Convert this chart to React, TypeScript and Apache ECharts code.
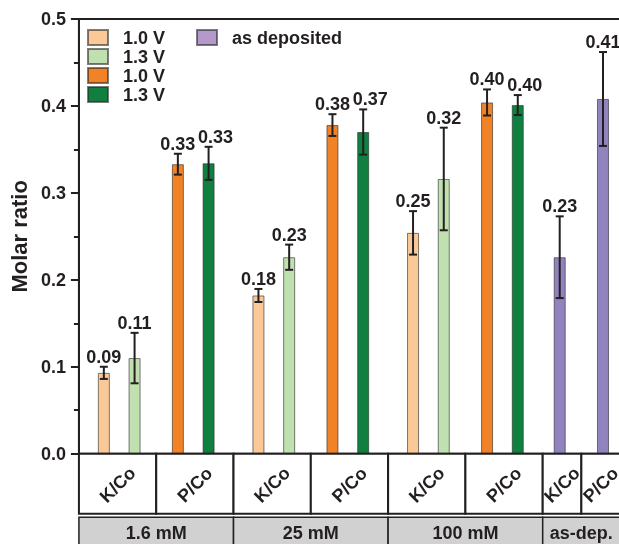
import React, { useEffect, useRef } from 'react';
import * as echarts from 'echarts';

// ---- data ----
const concentrations = ['1.6 mM', '25 mM', '100 mM', 'as-dep.'];
const ratios = ['K/Co', 'P/Co'];
const yTicks = [0, 0.1, 0.2, 0.3, 0.4, 0.5];

// K/Co and P/Co molar ratios for 1.6, 25, 100 mM at 1.0 V and 1.3 V
const kco10 = [0.093, 0.182, 0.254];
const kco10Err = [0.007, 0.0075, 0.025];
const kco13 = [0.110, 0.226, 0.316];
const kco13Err = [0.029, 0.0145, 0.059];
const pco10 = [0.333, 0.378, 0.404];
const pco10Err = [0.012, 0.0125, 0.015];
const pco13 = [0.334, 0.370, 0.401];
const pco13Err = [0.019, 0.026, 0.0115];
// as deposited: K/Co, P/Co
const asDep = [0.226, 0.408];
const asDepErr = [0.047, 0.054];

const legendLabels = ['1.0 V', '1.3 V', '1.0 V', '1.3 V', 'as deposited'];

// ---- layout / style ----
const FONT = '"Liberation Sans", Arial, Helvetica, sans-serif';
const INK = '#231f20';
const groupWidths = [4, 4, 4, 2]; // x-units per concentration block
const OUTER = 1.355;
const INNER = 0.56;
const colors = ['#FBC997', '#C0E0B0', '#F28226', '#108040', '#9184BE'];
const labelDx = [0, 0, 0, 7, 0];

const groupStarts: number[] = [];
groupWidths.reduce((acc, w) => { groupStarts.push(acc); return acc + w; }, 0);
const xMax = groupWidths.reduce((a, b) => a + b, 0);
const centers = groupStarts.map((s, i) => s + groupWidths[i] / 2);

const seriesNames = ['K/Co 1.0 V', 'K/Co 1.3 V', 'P/Co 1.0 V', 'P/Co 1.3 V', 'as deposited'];
const seriesDefs = [
  { values: kco10, errors: kco10Err, xs: kco10.map((_, i) => centers[i] - OUTER) },
  { values: kco13, errors: kco13Err, xs: kco13.map((_, i) => centers[i] - INNER) },
  { values: pco10, errors: pco10Err, xs: pco10.map((_, i) => centers[i] + INNER) },
  { values: pco13, errors: pco13Err, xs: pco13.map((_, i) => centers[i] + OUTER) },
  { values: asDep, errors: asDepErr, xs: asDep.map((_, i) => centers[3] + (i === 0 ? -INNER : INNER)) },
];

// table cells
const ratioCells: { s: number; e: number; label: string }[] = [];
groupStarts.forEach((s, g) => {
  const half = groupWidths[g] / 2;
  ratios.forEach((r, k) => ratioCells.push({ s: s + k * half, e: s + (k + 1) * half, label: r }));
});
const groupCells = concentrations.map((c, g) => ({ s: groupStarts[g], e: groupStarts[g] + groupWidths[g], label: c }));

export default function App() {
  const ref = useRef<HTMLDivElement>(null);
  useEffect(() => {
    if (!ref.current) return;
    const chart = echarts.init(ref.current, undefined, { renderer: 'svg' });

    const barSeries = seriesDefs.map((d, si) => ({
      type: 'bar',
      name: seriesNames[si],
      data: d.values.map((v, i) => [d.xs[i], v]),
      barWidth: 12,
      barGap: '-100%',
      itemStyle: { color: colors[si], borderColor: 'rgba(40,40,40,0.6)', borderWidth: 1 },
      z: 2,
    }));

    const errData: number[][] = [];
    seriesDefs.forEach((d, si) => d.values.forEach((v, i) => errData.push([d.xs[i], v, d.errors[i], si])));

    const errSeries = {
      type: 'custom',
      data: errData,
      z: 5,
      clip: false,
      encode: { x: 0, y: 1 },
      renderItem: (params: any, api: any) => {
        const x = api.value(0), v = api.value(1), e = api.value(2), si = api.value(3);
        const hi = api.coord([x, v + e]);
        const lo = api.coord([x, v - e]);
        const cw = 4;
        const ls = { stroke: INK, lineWidth: 2 };
        return {
          type: 'group',
          children: [
            { type: 'line', shape: { x1: hi[0], y1: hi[1], x2: lo[0], y2: lo[1] }, style: ls },
            { type: 'line', shape: { x1: hi[0] - cw, y1: hi[1], x2: hi[0] + cw, y2: hi[1] }, style: ls },
            { type: 'line', shape: { x1: lo[0] - cw, y1: lo[1], x2: lo[0] + cw, y2: lo[1] }, style: ls },
            {
              type: 'text', x: hi[0] + labelDx[si], y: hi[1] - 1,
              style: { text: v.toFixed(2), align: 'center', verticalAlign: 'bottom', font: `bold 18px ${FONT}`, fill: INK },
            },
          ],
        };
      },
    };

    const ratioSeries = {
      type: 'custom',
      data: ratioCells.map((c) => [c.s, c.e]),
      z: 6,
      clip: false,
      silent: true,
      renderItem: (params: any, api: any) => {
        const a = api.coord([api.value(0), 0]);
        const b = api.coord([api.value(1), 0]);
        const top = a[1];
        return {
          type: 'group',
          children: [
            { type: 'rect', shape: { x: a[0], y: top, width: b[0] - a[0], height: 60 }, style: { fill: '#fff', stroke: INK, lineWidth: 2 } },
            {
              type: 'text', x: (a[0] + b[0]) / 2, y: top + 31, rotation: Math.PI / 4,
              style: { text: ratioCells[params.dataIndex].label, align: 'center', verticalAlign: 'middle', font: `bold 18px ${FONT}`, fill: INK },
            },
          ],
        };
      },
    };

    const groupSeries = {
      type: 'custom',
      data: groupCells.map((c) => [c.s, c.e]),
      z: 6,
      clip: false,
      silent: true,
      renderItem: (params: any, api: any) => {
        const a = api.coord([api.value(0), 0]);
        const b = api.coord([api.value(1), 0]);
        const top = a[1] + 63.5;
        return {
          type: 'group',
          children: [
            { type: 'rect', shape: { x: a[0], y: top, width: b[0] - a[0], height: 32 }, style: { fill: '#d1d1d1', stroke: INK, lineWidth: 1.5 } },
            {
              type: 'text', x: (a[0] + b[0]) / 2, y: top + 15.5,
              style: { text: groupCells[params.dataIndex].label, align: 'center', verticalAlign: 'middle', font: `bold 18px ${FONT}`, fill: INK },
            },
          ],
        };
      },
    };

    const legendText = { fontSize: 18, fontWeight: 'bold', fontFamily: FONT, color: INK, lineHeight: 15, padding: [0, 0, 0, 10] };
    const fmt = (n: string) => n.replace(/^[KP]\/Co /, '');

    chart.setOption({
      animation: false,
      grid: { left: 78, top: 19, width: 542, height: 434.7, show: true, borderColor: INK, borderWidth: 2, backgroundColor: 'transparent' },
      legend: [
        {
          data: seriesNames.slice(0, 4), orient: 'vertical', left: 87, top: 28.5, padding: 0, itemWidth: 20, itemHeight: 15, itemGap: 1,
          icon: 'rect', selectedMode: false, textStyle: legendText, formatter: fmt,
        },
        {
          data: [{ name: seriesNames[4], itemStyle: { color: '#B49ACB' } }], orient: 'vertical', left: 196, top: 28.5, padding: 0, itemWidth: 20, itemHeight: 15,
          icon: 'rect', selectedMode: false, textStyle: legendText, formatter: () => legendLabels[4],
        },
      ],
      xAxis: {
        type: 'value', min: 0, max: xMax,
        axisLine: { show: false }, axisTick: { show: false }, axisLabel: { show: false }, splitLine: { show: false },
      },
      yAxis: {
        type: 'value', min: yTicks[0], max: yTicks[yTicks.length - 1], interval: yTicks[1] - yTicks[0],
        axisLine: { show: true, lineStyle: { color: INK, width: 2 } },
        axisTick: { show: true, length: 8, lineStyle: { color: INK, width: 2 } },
        minorTick: { show: true, splitNumber: 2, length: 5, lineStyle: { color: INK, width: 2 } },
        splitLine: { show: false },
        axisLabel: { margin: 13, formatter: (v: number) => v.toFixed(1), fontSize: 18, fontWeight: 'bold', fontFamily: FONT, color: INK },
        name: 'Molar ratio', nameLocation: 'middle', nameGap: 36,
        nameTextStyle: { fontSize: 22, fontWeight: 'bold', fontFamily: FONT, color: INK },
      },
      series: [...barSeries, errSeries, ratioSeries, groupSeries],
    });
    return () => chart.dispose();
  }, []);
  return <div ref={ref} style={{ position: 'fixed', left: 0, top: 0, width: 640, height: 544 }} />;
}
